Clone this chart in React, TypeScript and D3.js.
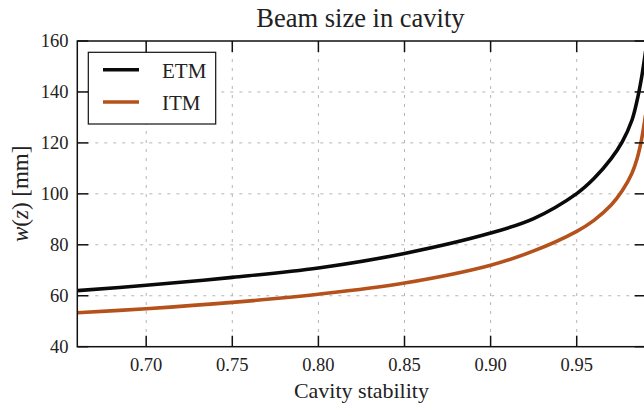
import React from "react";
import * as d3 from "d3";

const stability = [0.66, 0.70, 0.75, 0.80, 0.85, 0.90, 0.925, 0.95, 0.96, 0.97, 0.9765, 0.982, 0.985, 0.9875, 0.99];
const etm = [62.0, 64.1, 67.2, 70.9, 76.6, 84.6, 90.3, 100.1, 106.0, 113.8, 120.5, 128.8, 136.5, 145.0, 156.0];
const itm = [53.3, 54.9, 57.4, 60.6, 65.0, 72.0, 77.6, 85.3, 89.6, 95.6, 101.3, 108.0, 113.7, 120.8, 131.0];
const xTicks = [0.70, 0.75, 0.80, 0.85, 0.90, 0.95];
const yTicks = [40, 60, 80, 100, 120, 140, 160];
const seriesNames = ["ETM", "ITM"];
const seriesColors = ["#0a0a0a", "#b5521c"];

const W = 644, H = 405;
const L = 77.3, R = 645.6, T = 41, B = 346.7;
const FONT = "'Liberation Serif', 'DejaVu Serif', serif";

export default function App() {
  const x = d3.scaleLinear().domain([0.66, 0.99]).range([L, R]);
  const y = d3.scaleLinear().domain([40, 160]).range([B, T]);
  const line = d3
    .line<[number, number]>()
    .x((d) => x(d[0]))
    .y((d) => y(d[1]))
    .curve(d3.curveCatmullRom.alpha(0.5));
  const series = [etm, itm].map((vals) => stability.map((s, i) => [s, vals[i]] as [number, number]));
  const tickLen = 11;
  return (
    <svg width={W} height={H} style={{ position: "absolute", left: 0, top: 0, background: "#fff" }}>
      <defs>
        <clipPath id="plot">
          <rect x={L} y={T} width={R - L} height={B - T} />
        </clipPath>
      </defs>
      <rect x={0} y={0} width={W} height={H} fill="#fff" />
      {/* grid */}
      <g stroke="#b4b4b4" strokeWidth={1} strokeDasharray="3,6">
        {xTicks.map((t) => (
          <line key={"gx" + t} x1={x(t)} x2={x(t)} y1={T} y2={B} />
        ))}
        {yTicks.slice(1, -1).map((t) => (
          <line key={"gy" + t} x1={L} x2={R} y1={y(t)} y2={y(t)} />
        ))}
      </g>
      {/* curves */}
      <g clipPath="url(#plot)">
        {series.map((d, i) => (
          <path key={i} d={line(d) || ""} fill="none" stroke={seriesColors[i]} strokeWidth={3.6} strokeLinejoin="round" />
        ))}
      </g>
      {/* ticks */}
      <g stroke="#111" strokeWidth={1.5}>
        {xTicks.map((t) => (
          <g key={"tx" + t}>
            <line x1={x(t)} x2={x(t)} y1={B} y2={B - tickLen} />
            <line x1={x(t)} x2={x(t)} y1={T} y2={T + tickLen} />
          </g>
        ))}
        {yTicks.map((t) => (
          <g key={"ty" + t}>
            <line x1={L} x2={L + tickLen} y1={y(t)} y2={y(t)} />
            <line x1={R} x2={R - tickLen} y1={y(t)} y2={y(t)} />
          </g>
        ))}
      </g>
      {/* frame */}
      <rect x={L} y={T} width={R - L} height={B - T} fill="none" stroke="#111" strokeWidth={1.5} />
      {/* tick labels */}
      <g fontFamily={FONT} fontSize={18.5} fill="#222">
        {xTicks.map((t) => (
          <text key={"lx" + t} x={x(t)} y={370.5} textAnchor="middle">
            {d3.format(".2f")(t)}
          </text>
        ))}
        {yTicks.map((t) => (
          <text key={"ly" + t} x={68.5} y={y(t) + 6.3} textAnchor="end">
            {t}
          </text>
        ))}
      </g>
      {/* title and axis labels */}
      <text x={(L + R) / 2 - 1} y={27} textAnchor="middle" fontFamily={FONT} fontSize={26.5} fill="#222">
        Beam size in cavity
      </text>
      <text x={(L + R) / 2} y={397.5} textAnchor="middle" fontFamily={FONT} fontSize={22} fill="#222">
        Cavity stability
      </text>
      <text
        transform={`translate(27.5, ${(T + B) / 2}) rotate(-90)`}
        textAnchor="middle"
        fontFamily={FONT}
        fontSize={23}
        fill="#222"
      >
        <tspan fontStyle="italic">w</tspan>(<tspan fontStyle="italic">z</tspan>) [mm]
      </text>
      {/* legend */}
      <g>
        <rect x={88.3} y={52.3} width={127.4} height={71.7} fill="#fff" stroke="#111" strokeWidth={1.2} />
        {seriesNames.map((n, i) => (
          <g key={n}>
            <line x1={103} x2={139} y1={69.7 + i * 32.3} y2={69.7 + i * 32.3} stroke={seriesColors[i]} strokeWidth={3.6} />
            <text x={162} y={78.3 + i * 32} fontFamily={FONT} fontSize={21} fill="#222">
              {n}
            </text>
          </g>
        ))}
      </g>
    </svg>
  );
}
